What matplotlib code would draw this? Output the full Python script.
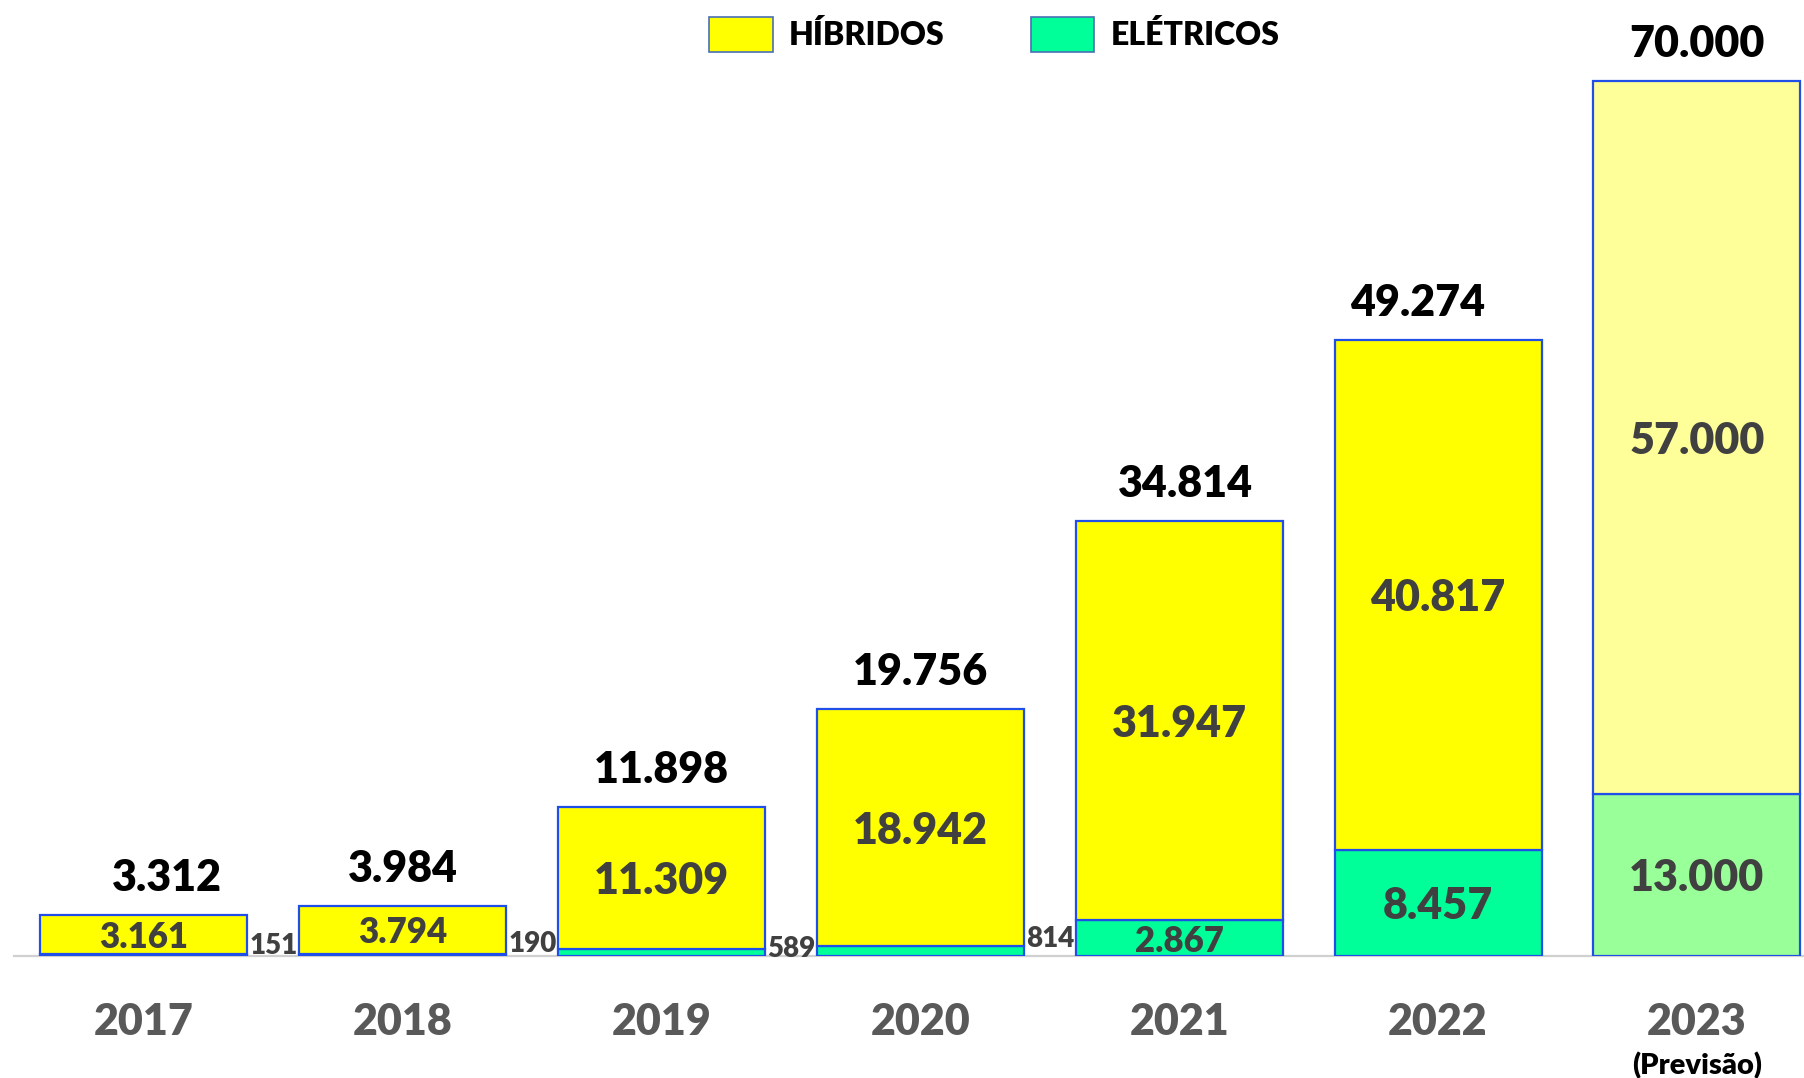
import matplotlib
matplotlib.use("Agg")
import matplotlib.pyplot as plt
from matplotlib.patches import Patch
from matplotlib.transforms import blended_transform_factory

years = ["2017", "2018", "2019", "2020", "2021", "2022", "2023"]
hibridos = [3161, 3794, 11309, 18942, 31947, 40817, 57000]
eletricos = [151, 190, 589, 814, 2867, 8457, 13000]
totais = [3312, 3984, 11898, 19756, 34814, 49274, 70000]
hib_labels = ["3.161", "3.794", "11.309", "18.942", "31.947", "40.817", "57.000"]
ele_labels = ["151", "190", "589", "814", "2.867", "8.457", "13.000"]
tot_labels = ["3.312", "3.984", "11.898", "19.756", "34.814", "49.274", "70.000"]
forecast_note = "(Previsão)"

plt.rcParams['font.family'] = ['Lato', 'DejaVu Sans']

W, H = 1804, 1078
fig = plt.figure(figsize=(W / 100, H / 100), dpi=100)
ax = fig.add_axes([14 / W, 122 / H, 1 - 14 / W, 937 / H])

WT = "heavy"
yellow = ["#FFFF00"] * 6 + ["#FFFF99"]
green = ["#00FF99"] * 6 + ["#99FF99"]
edge = "#1F4FE8"
x = list(range(len(years)))

ax.bar(x, eletricos, width=0.8, color=green, edgecolor=edge, linewidth=1.6, zorder=3)
ax.bar(x, hibridos, bottom=eletricos, width=0.8, color=yellow, edgecolor=edge, linewidth=1.6, zorder=3)

ax.set_xlim(-0.502, 6.414)
ax.set_ylim(0, 75000)
for s in ["top", "right", "left"]:
    ax.spines[s].set_visible(False)
ax.spines["bottom"].set_color("#D0D0D0")
ax.spines["bottom"].set_linewidth(1.6)
ax.set_yticks([])
ax.set_xticks([])

tot_dx = [23, 0, 0, 0, 6, -20, 0]
ele_dy = [-3, -1, -6, 4]
dark = "#404040"
tr = blended_transform_factory(ax.transData, ax.transAxes)
for i in x:
    ax.annotate(tot_labels[i], (i, totais[i]), xytext=(tot_dx[i], 37), textcoords="offset pixels",
                ha="center", va="center", fontsize=31, fontweight=WT, color="black")
    small = hibridos[i] < 5000
    ax.annotate(hib_labels[i], (i, eletricos[i] + hibridos[i] / 2), xytext=(0, -3), textcoords="offset pixels",
                ha="center", va="center", fontsize=25 if small else 31, fontweight=WT, color=dark)
    if eletricos[i] < 2000:
        ax.annotate(ele_labels[i], (i + 0.4, 0), xytext=(2, ele_dy[i]), textcoords="offset pixels",
                    ha="left", va="bottom", fontsize=20, fontweight=WT, color=dark)
    else:
        ax.annotate(ele_labels[i], (i, eletricos[i] / 2), xytext=(0, -3), textcoords="offset pixels",
                    ha="center", va="center", fontsize=25 if eletricos[i] < 5000 else 31,
                    fontweight=WT, color=dark)
    ax.annotate(years[i], (i, 0), xycoords=tr, xytext=(0, -66), textcoords="offset pixels",
                ha="center", va="center", fontsize=31, fontweight=WT, color="#595959")

ax.annotate(forecast_note, (6, 0), xycoords=tr,
            xytext=(0, -110), textcoords="offset pixels", ha="center", va="center",
            fontsize=21, fontweight=WT, color="black")

handles = [Patch(facecolor="#FFFF00", edgecolor="#4A6FB5", linewidth=1.2, label="HÍBRIDOS"),
           Patch(facecolor="#00FF99", edgecolor="#4A6FB5", linewidth=1.2, label="ELÉTRICOS")]
fig.legend(handles=handles, loc="center", bbox_to_anchor=(0.551, 0.968), ncol=2, frameon=False,
           prop={"size": 23, "weight": WT}, handlelength=2.0, handleheight=1.3,
           handletextpad=0.5, columnspacing=2.7)

fig.savefig("out.png", dpi=100)
